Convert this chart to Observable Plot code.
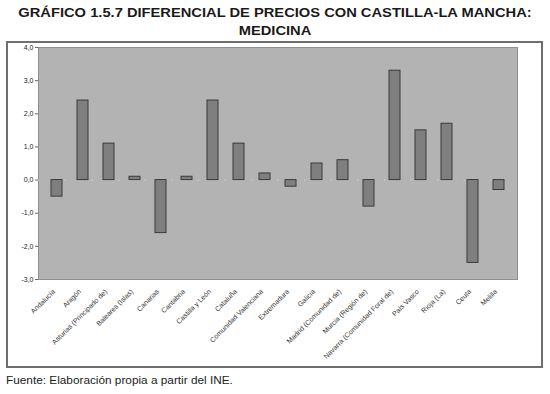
<!DOCTYPE html>
<html>
<head>
<meta charset="utf-8">
<script src="https://cdn.jsdelivr.net/npm/d3@7"></script>
<script src="https://cdn.jsdelivr.net/npm/@observablehq/plot@0.6"></script>
<style>
  body { margin: 0; width: 550px; height: 394px; background: #fff; font-family: "Liberation Sans", Arial, sans-serif; position: relative; overflow: hidden; }
  #title { position: absolute; left: 0; top: 4px; width: 550px; text-align: center; font-weight: bold; font-size: 13px; line-height: 17.5px; color: #1a1a1a; transform: scaleX(1.13); transform-origin: 275px 0; }
  #frame { position: absolute; left: 6px; top: 41px; width: 533px; height: 323px; border: 2px solid #6e6e6e; background: #fff; }
  #frame svg { display: block; }
  #caption { position: absolute; left: 6px; top: 373px; font-size: 11.8px; color: #222; }
</style>
</head>
<body>
<div id="title">GRÁFICO 1.5.7 DIFERENCIAL DE PRECIOS CON CASTILLA-LA MANCHA:<br>MEDICINA</div>
<div id="frame"></div>
<div id="caption">Fuente: Elaboración propia a partir del INE.</div>
<script>
const regions = ["Andalucía", "Aragón", "Asturias (Principado de)", "Baleares (Islas)", "Canarias", "Cantabria", "Castilla y León", "Cataluña", "Comunidad Valenciana", "Extremadura", "Galicia", "Madrid (Comunidad de)", "Murcia (Región de)", "Navarra (Comunidad Foral de)", "País Vasco", "Rioja (La)", "Ceuta", "Melilla"];
const values = [-0.5, 2.4, 1.1, 0.1, -1.6, 0.1, 2.4, 1.1, 0.2, -0.2, 0.5, 0.6, -0.8, 3.3, 1.5, 1.7, -2.5, -0.3];
const yTicks = [-3, -2, -1, 0, 1, 2, 3, 4];

const data = regions.map((r, i) => ({region: r, value: values[i]}));

const chart = Plot.plot({
  width: 533,
  height: 323,
  marginLeft: 30,
  marginRight: 24,
  marginTop: 4,
  marginBottom: 87,
  style: {fontFamily: "'Liberation Sans', Arial, sans-serif", background: "transparent", color: "#222"},
  x: {domain: regions, paddingInner: 0.58, paddingOuter: 0.29, label: null},
  y: {domain: [-3, 4], label: null},
  marks: [
    Plot.frame({fill: "#b3b3b3", stroke: "#8f8f8f"}),
    Plot.ruleY([0], {stroke: "#d2d2d2", strokeDasharray: "1.5,25.1"}),
    Plot.barY(data, {x: "region", y: "value", fill: "#7f7f7f", stroke: "#3a3a3a", strokeWidth: 1}),
    Plot.axisY({ticks: yTicks, tickFormat: d => d.toFixed(1).replace(".", ","), tickSize: 3, tickPadding: 2, fontSize: 7, stroke: "#666"}),
    Plot.ruleX([0], {frameAnchor: "left", stroke: "#777"}),
    Plot.axisX({tickSize: 0, tickRotate: -45, tickPadding: 11, dx: -3, fontSize: 7, fill: "#333"})
  ]
});
document.getElementById("frame").appendChild(chart);
</script>
</body>
</html>
